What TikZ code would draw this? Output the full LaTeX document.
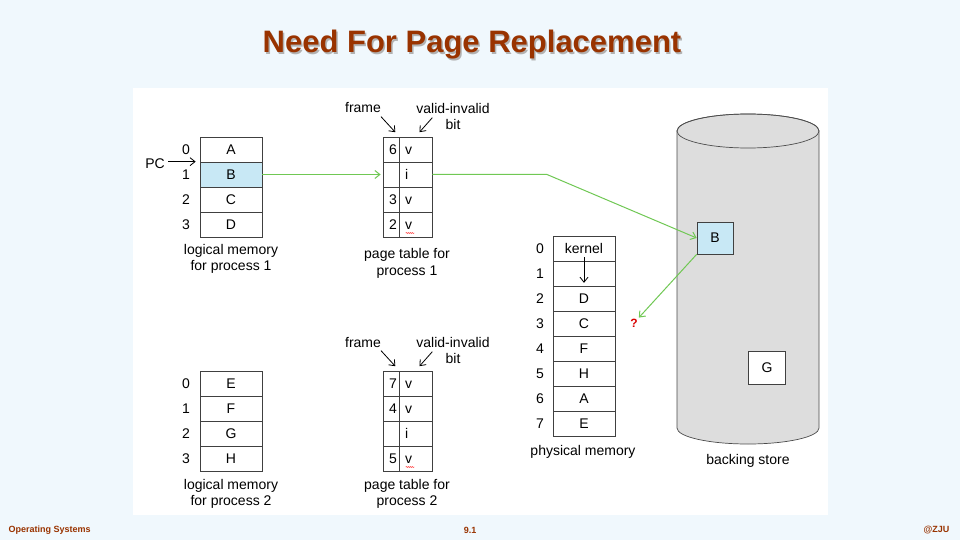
\documentclass[tikz,border=0pt]{standalone}
\usepackage{fontspec}
\setmainfont{Liberation Sans}
\usetikzlibrary{arrows.meta}
\usetikzlibrary{positioning}
\usetikzlibrary{decorations.pathmorphing}

\definecolor{slidebg}{RGB}{240,248,253}
\definecolor{titlebrown}{RGB}{153,51,0}
\definecolor{faultgreen}{RGB}{112,200,84}
\definecolor{pageblue}{RGB}{200,232,245}
\definecolor{diskgray}{RGB}{221,221,221}

\begin{document}
\begin{tikzpicture}[
    x=1pt, y=-1pt,
    cell/.style={rectangle, draw=black!75, line width=0.7pt, minimum width=62pt, minimum height=25pt, inner sep=0pt, text height=9.6pt, text depth=0.4pt, font=\fontsize{14}{16}\selectfont},
    framecell/.style={cell, minimum width=16pt, text width=12pt, inner xsep=2pt, align=right},
    bitcell/.style={cell, minimum width=33pt, text width=21pt, inner xsep=6pt, align=left},
    idx/.style={font=\fontsize{14}{16}\selectfont},
    caption/.style={align=center, font=\fontsize{14}{16.7}\selectfont},
    foot/.style={font=\fontsize{9}{10}\selectfont\bfseries, text=titlebrown},
    pointer/.style={line width=0.8pt, -{Straight Barb[length=5pt, width=8pt]}},
    pagefault/.style={draw=faultgreen, line width=1pt, -{Straight Barb[length=5pt, width=8pt]}}
]

% --- Slide background and white panel ---
\fill[slidebg] (0,0) rectangle (960,540);
\useasboundingbox (0,0) rectangle (960,540);
\fill[white] (133,88) rectangle (828,515);

% --- Title ---
\node[font=\fontsize{31}{36}\selectfont\bfseries, text=black!30] (titleshadow) at (473.5,46.5) {Need For Page Replacement};
\node[font=\fontsize{31}{36}\selectfont\bfseries, text=titlebrown] (title) at (472,45) {Need For Page Replacement};

% --- Logical memory for process 1 ---
\foreach \i/\t/\c in {0/A/white,1/B/pageblue,2/C/white,3/D/white}
{
    \node[cell, fill=\c] (lma\i) at (231,{149.5+25*\i}) {\t};
    \node[idx] (lmai\i) at (186,{149.5+25*\i}) {\i};
}
\node[idx] (pc) at (155,164) {PC};
\draw[pointer, shorten >=4pt] (pc.east |- lma1.north west) -- (lma1.north west);
\node[caption] (lmacap) at (231,259) {logical memory\\for process 1};

% --- Page table for process 1 ---
\foreach \i/\f/\b in {0/6/v,1//i,2/3/v,3/2/v}
{
    \node[framecell] (ptfa\i) at (391,{149.5+25*\i}) {\f};
    \node[bitcell] (ptba\i) at (415.5,{149.5+25*\i}) {\b};
}
\node[idx] (framea) at (363,108) {frame};
\node[caption] (vbita) at (453,116.5) {valid-invalid\\bit};
\coordinate (frameatail) at ([shift={(-10,-20)}]ptfa0.north);
\coordinate (vbitatail) at ([shift={(0,-19)}]ptba0.north east);
\draw[pointer, shorten >=6pt] (frameatail) -- (ptfa0.north east);
\draw[pointer, shorten >=6pt] (vbitatail) -- (ptba0.north);
\draw[red!80, decorate, decoration={snake, amplitude=0.6pt, segment length=2pt}] ([shift={(7,8.5)}]ptba3.west) -- ([shift={(16,8.5)}]ptba3.west);
\node[caption] (ptacap) at (407,263.5) {page table for\\process 1};

% --- Logical memory for process 2 ---
\foreach \i/\t in {0/E,1/F,2/G,3/H}
{
    \node[cell] (lmb\i) at (231,{383.5+25*\i}) {\t};
    \node[idx] (lmbi\i) at (186,{383.5+25*\i}) {\i};
}
\node[caption] (lmbcap) at (231,494) {logical memory\\for process 2};

% --- Page table for process 2 ---
\foreach \i/\f/\b in {0/7/v,1/4/v,2//i,3/5/v}
{
    \node[framecell] (ptfb\i) at (391,{383.5+25*\i}) {\f};
    \node[bitcell] (ptbb\i) at (415.5,{383.5+25*\i}) {\b};
}
\node[idx] (frameb) at (363,343) {frame};
\node[caption] (vbitb) at (453,350.5) {valid-invalid\\bit};
\coordinate (framebtail) at ([shift={(-10,-20)}]ptfb0.north);
\coordinate (vbitbtail) at ([shift={(0,-19)}]ptbb0.north east);
\draw[pointer, shorten >=6pt] (framebtail) -- (ptfb0.north east);
\draw[pointer, shorten >=6pt] (vbitbtail) -- (ptbb0.north);
\draw[red!80, decorate, decoration={snake, amplitude=0.6pt, segment length=2pt}] ([shift={(7,8.5)}]ptbb3.west) -- ([shift={(16,8.5)}]ptbb3.west);
\node[caption] (ptbcap) at (407,494) {page table for\\process 2};

% --- Physical memory ---
\foreach \i/\t in {0/kernel,1/,2/D,3/C,4/F,5/H,6/A,7/E}
{
    \node[cell] (pm\i) at (584,{248.5+25*\i}) {\t};
    \node[idx] (pmi\i) at (540,{248.5+25*\i}) {\i};
}
\draw[pointer, shorten <=-4pt, shorten >=3.5pt] (pm0.south) -- (pm1.south);
\node[caption] (pmcap) at (583,452) {physical memory};

% --- Backing store ---
\filldraw[fill=diskgray, draw=black!70, line width=0.7pt] (677,131) -- (677,428) arc[start angle=180, end angle=360, x radius=71pt, y radius=16pt] -- (819,131) arc[start angle=0, end angle=180, x radius=71pt, y radius=17pt] -- cycle;
\draw[black!70, line width=0.7pt] (748,131) ellipse [x radius=71pt, y radius=17pt];
\node[cell, fill=pageblue, minimum width=36pt, minimum height=32pt] (bsb) at (715,238) {B};
\node[cell, fill=white, minimum width=37pt, minimum height=33pt] (bsg) at (767,368) {G};
\node[caption] (bscap) at (748,461) {backing store};

% --- Page fault path ---
\coordinate (bend) at (547,174.5);
\node[text=red!85!black, font=\fontsize{12}{13}\selectfont\bfseries, inner sep=1pt] (qmark) at (634,323) {?};
\draw[pagefault, shorten >=2pt] (lma1.east) -- (ptfa1.west);
\draw[pagefault] (ptba1.east) -- (bend) -- (bsb.west);
\draw[pagefault] (bsb.south west) -- (qmark.north east);

% --- Footer ---
\node[foot, anchor=west] (footl) at (5,530) {Operating Systems};
\node[foot] (footc) at (470,530) {9.1};
\node[foot, anchor=east] (footr) at (953,530) {@ZJU};

\end{tikzpicture}
\end{document}
